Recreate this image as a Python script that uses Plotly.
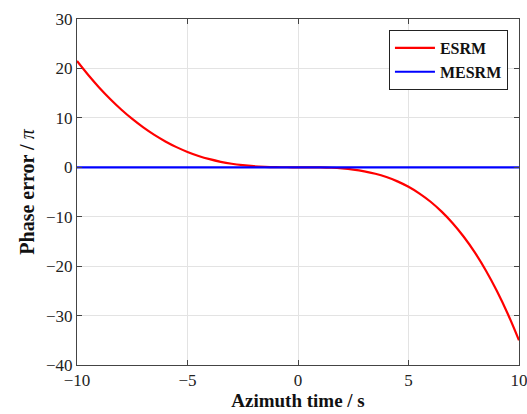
import plotly.graph_objects as go

azimuth_time = [-10, -9.5, -9, -8.5, -8, -7.5, -7, -6.5, -6, -5.5, -5, -4.5, -4, -3.5, -3, -2.5, -2, -1.5, -1, -0.5,
                0, 0.5, 1, 1.5, 2, 2.5, 3, 3.5, 4, 4.5, 5, 5.5, 6, 6.5, 7, 7.5, 8, 8.5, 9, 9.5, 10]
esrm_error = [21.5, 18.72, 16.16, 13.83, 11.70, 9.78, 8.07, 6.55, 5.23, 4.08, 3.11, 2.30, 1.64, 1.11, 0.71, 0.42,
              0.215, 0.092, 0.028, 0.0035,
              0.0, -0.004, -0.029, -0.098, -0.237, -0.47, -0.82, -1.31, -1.98, -2.85, -3.95, -5.32, -6.97, -8.97,
              -11.31, -14.06, -17.22, -20.87, -25.02, -29.72, -35.0]
mesrm_error = [0.0] * len(azimuth_time)

x_ticks = [-10, -5, 0, 5, 10]
y_ticks = [-40, -30, -20, -10, 0, 10, 20, 30]

font_family = "Liberation Serif"

fig = go.Figure()
fig.add_trace(go.Scatter(x=azimuth_time, y=esrm_error, mode="lines", name="<b>ESRM</b>",
                         line=dict(color="#ff0000", width=2.2, shape="spline", smoothing=1.0)))
fig.add_trace(go.Scatter(x=azimuth_time, y=mesrm_error, mode="lines", name="<b>MESRM</b>",
                         line=dict(color="#0000ff", width=2.2)))

axis_common = dict(showline=True, linecolor="#444444", linewidth=1, mirror="ticks",
                   ticks="inside", ticklen=5, tickcolor="#444444", automargin=False,
                   ticklabeloverflow="allow",
                   showgrid=True, gridcolor="#e3e3e3", gridwidth=1, zeroline=False,
                   tickfont=dict(family=font_family, size=17, color="#222222"))

fig.update_layout(
    width=527, height=414,
    margin=dict(l=77, r=8, t=19, b=49),
    paper_bgcolor="white", plot_bgcolor="white",
    font=dict(family=font_family, color="#222222"),
    xaxis=dict(range=[-10, 10], tickvals=x_ticks,
               title=dict(text="<b>Azimuth time / s</b>", font=dict(size=19, family=font_family, color="#111111"),
                          standoff=2),
               **axis_common),
    yaxis=dict(range=[-40, 30], tickvals=y_ticks,
               title=dict(text="<b>Phase error / </b><i>π</i>", font=dict(size=20, family=font_family, color="#111111"),
                          standoff=6),
               **axis_common),
    legend=dict(x=0.975, y=0.968, xanchor="right", yanchor="top",
                bgcolor="white", bordercolor="#222222", borderwidth=1,
                font=dict(family=font_family, size=16, color="#111111"),
                tracegroupgap=0, itemwidth=40),
    showlegend=True,
)

fig.write_html("out.html", config={"displayModeBar": False},
               post_script="document.body.style.margin='0';document.body.style.overflow='hidden';")
